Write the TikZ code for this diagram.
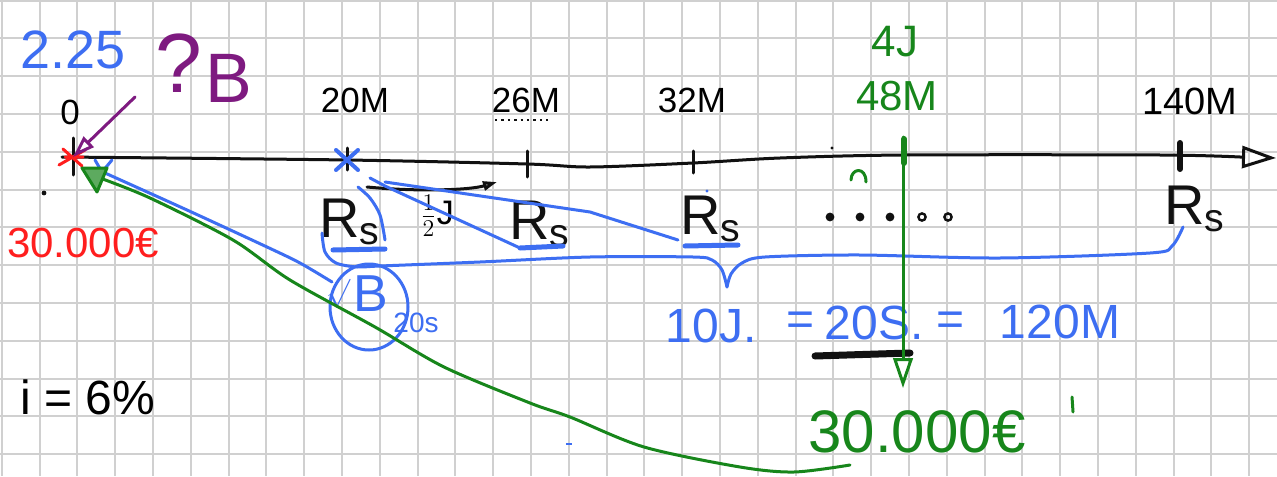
\documentclass[tikz,border=0pt]{standalone}
\usepackage{fontspec}
\setmainfont{Liberation Sans}
\usetikzlibrary{arrows.meta,positioning,calc}
\definecolor{gridgrey}{HTML}{D0D0D0}
\definecolor{ink}{HTML}{111111}
\definecolor{penblue}{HTML}{3D6EF2}
\definecolor{pengreen}{HTML}{17861B}
\definecolor{penred}{HTML}{FF1E1E}
\definecolor{penpurple}{HTML}{7E1A80}

\begin{document}
\begin{tikzpicture}[x=0.5pt, y=-0.5pt,
 gridline/.style={draw=gridgrey, line width=1pt},
 hand/.style={line width=1.5pt, line cap=round, line join=round},
 thickhand/.style={line width=3pt, line cap=round},
 uline/.style={line width=2.5pt, line cap=round, draw=penblue},
 lbl/.style={inner sep=0pt, font=\fontsize{17.5}{20}\selectfont},
 big/.style={inner sep=0pt, font=\fontsize{27}{30}\selectfont},
 rs/.style={inner sep=0pt, font=\fontsize{28}{30}\selectfont, text=ink},
 opentip/.style={-{Triangle[open, length=#1, width=0.65*#1]}}]
% paper
\useasboundingbox (0,0) rectangle (1277,476);
\fill[white] (0,0) rectangle (1277,476);
\foreach \k in {0,...,33} \draw[gridline] ({1.7+37.8*\k},0) -- ({1.7+37.8*\k},476);
\foreach \k in {0,...,12} \draw[gridline] (0,{0.6+37.8*\k}) -- (1277,{0.6+37.8*\k});

% time line
\coordinate (t0) at (73,157);
\coordinate (t20) at (347,160);
\coordinate (t26) at (527,164);
\coordinate (t32) at (693,163);
\coordinate (t48) at (904,155);
\coordinate (t140) at (1180,156);
\coordinate (tend) at (1276,158);
\draw[hand, draw=ink, opentip=17pt] plot[smooth] coordinates
 {(62,157) (t20) (t26) (590,167) (t32) (780,158) (t48) (1160,155) (1240,157)} -- (tend);
\draw[hand, draw=ink] ($(t0)+(0,-19)$) -- ($(t0)+(0,18)$);
\draw[hand, draw=ink] ($(t20)+(0,-12)$) -- ($(t20)+(0,10)$);
\draw[hand, draw=ink] ($(t26)+(0,-13)$) -- ($(t26)+(0,13)$);
\draw[hand, draw=ink] ($(t32)+(0,-12)$) -- ($(t32)+(0,10)$);
\draw[thickhand, draw=ink] ($(t140)+(0,-13)$) -- ($(t140)+(0,13)$);
\draw[hand, draw=penblue, line width=2pt] ($(t20)+(-11,-10)$) -- ($(t20)+(11,10)$)
 ($(t20)+(-11,10)$) -- ($(t20)+(11,-10)$);
\draw[hand, draw=penred] ($(t0)+(-14,8)$) -- ($(t0)+(12,-7)$)
 ($(t0)+(-10,-8)$) -- ($(t0)+(9,9)$) ($(t0)+(-8,0)$) -- ($(t0)+(10,0)$);

% labels over the line
\node[lbl] (l0) at (70,112) {0};
\node[lbl] (l20) at (355,100) {20M};
\node[lbl] (l26) at (526,100) {26M};
\node[lbl] (l32) at (692,100) {32M};
\node[lbl, font=\fontsize{19}{22}\selectfont] (l140) at (1190,101) {140M};
\node[lbl, text=pengreen, font=\fontsize{22}{24}\selectfont] (l4j) at (895,42) {4J};
\node[lbl, text=pengreen, font=\fontsize{21}{24}\selectfont] (l48) at (897,96) {48M};
\draw[dotted, line width=1.2pt, draw=ink] (495,120) -- (548,120);
\node[big, text=penblue] (l225) at (73,50) {2.25};
\node[inner sep=0pt, text=penpurple, font=\fontsize{42}{46}\selectfont] (lq) at (179,63) {?};
\node[inner sep=0pt, text=penpurple, font=\fontsize{35}{38}\selectfont] (lb) at (229,78) {B};
\draw[hand, draw=penpurple, opentip=11pt] (135,97) -- (t0);

% start value
\node[inner sep=0pt, text=penred, font=\fontsize{21}{24}\selectfont] (p0) at (83,243) {30.000€};
\fill[ink] (44,193) circle (1.2pt);

% payments
\node[rs] (r20) at (350,222) {R\textsubscript{s}};
\node[rs] (r26) at (540,224) {R\textsubscript{s}};
\node[rs] (r32) at (711,219) {R\textsubscript{s}};
\node[rs] (r140) at (1195,209) {R\textsubscript{s}};
\draw[uline] (333,250) -- (385,249);
\draw[uline] (520,248) -- (563,246);
\draw[uline] (685,246) -- (738,245);
\draw[hand, draw=ink, opentip=7pt] (367,187) .. controls (420,192) and (470,190) .. (497,182);
\node[inner sep=0pt, font=\fontsize{17}{18}\selectfont] (half) at (437,216) {$\frac{1}{2}$J};
\foreach \x in {830,860,890} \fill[ink] (\x,217) circle (2.2pt);
\foreach \x in {922,948} \draw[ink, line width=1.2pt] (\x,217) circle (1.8pt);
\fill[ink] (832,148) circle (0.8pt);
\fill[penblue] (707,191) circle (0.8pt);

% blue links and brace
\draw[hand, draw=penblue] (370,178) .. controls (378,182) .. (385,186) -- (520,248);
\draw[hand, draw=penblue] (385,182) -- (590,212) -- (678,240);
\draw[hand, draw=penblue] plot[smooth] coordinates {(358,187) (370,198) (380,215) (385,240)};
\coordinate (btip) at (727,287);
\draw[hand, draw=penblue] plot[smooth] coordinates
 {(322,233) (325,252) (336,263) (357,267) (380,266) (480,262) (590,257) (693,257) (712,260) (722,270) (btip)};
\draw[hand, draw=penblue] plot[smooth] coordinates
 {(btip) (731,274) (742,263) (765,257) (860,255) (1000,258) (1150,253) (1172,246) (1183,227)};
\draw[hand, draw=penblue] (95,160) -- (102,172) -- (112,160);
\draw[hand, draw=penblue] plot[smooth] coordinates {(105,173) (187,210) (267,247) (300,263) (332,282)};

% annuity value
\node[inner sep=0pt, text=penblue, font=\fontsize{26}{28}\selectfont] (bsym) at (371,294) {B};
\node[inner sep=0pt, text=penblue, font=\fontsize{15}{18}\selectfont, left=1pt of bsym] (bsqrt) {$\surd$};
\node[inner sep=0pt, text=penblue, font=\fontsize{14}{16}\selectfont] (bsub) at (416,323) {20s};
\draw[hand, draw=penblue] (369,307) ellipse [x radius=19.5pt, y radius=21.5pt];

% equivalences
\node[inner sep=0pt, text=penblue, font=\fontsize{24}{28}\selectfont] (e1) at (711,326) {10J.};
\node[inner sep=0pt, text=penblue, font=\fontsize{24}{28}\selectfont] (e2) at (801,324) {=};
\node[inner sep=0pt, text=penblue, font=\fontsize{24}{28}\selectfont] (e3) at (874,323) {20S.};
\node[inner sep=0pt, text=penblue, font=\fontsize{24}{28}\selectfont] (e4) at (950,324) {=};
\node[inner sep=0pt, text=penblue, font=\fontsize{24}{28}\selectfont] (e5) at (1060,322) {120M};
\draw[line width=3.5pt, draw=ink, line cap=round] (815,356) -- (910,353);
\fill[penblue] (566,445) rectangle (572,443);

% green: 4 years out
\coordinate (g0) at (903,137);
\coordinate (g1) at (903,388);
\draw[thickhand, draw=pengreen] ($(t48)+(0,-16)$) -- ($(t48)+(0,8)$);
\draw[hand, draw=pengreen, opentip=15pt] (g0) -- (g1);
\node[inner sep=0pt, text=pengreen, font=\fontsize{30}{34}\selectfont] (p4) at (917,432) {30.000€};
\draw[hand, draw=pengreen] (1072,397) -- (1073,412);
\draw[hand, draw=pengreen] (851,180) .. controls (851,168) and (866,166) .. (866,182);
\draw[hand, draw=pengreen] plot[smooth] coordinates
 {(100,178) (150,198) (233,240) (290,280) (375,327) (444,367) (530,403) (570,417) (644,447) (740,467) (794,472) (850,465)};
\filldraw[hand, draw=pengreen, fill=pengreen!70] (82,168) -- (107,168) -- (97,192) -- cycle;

% rate
\node[inner sep=0pt, font=\fontsize{24}{28}\selectfont] (rate) at (88,397) {i = 6\%};
\end{tikzpicture}
\end{document}
